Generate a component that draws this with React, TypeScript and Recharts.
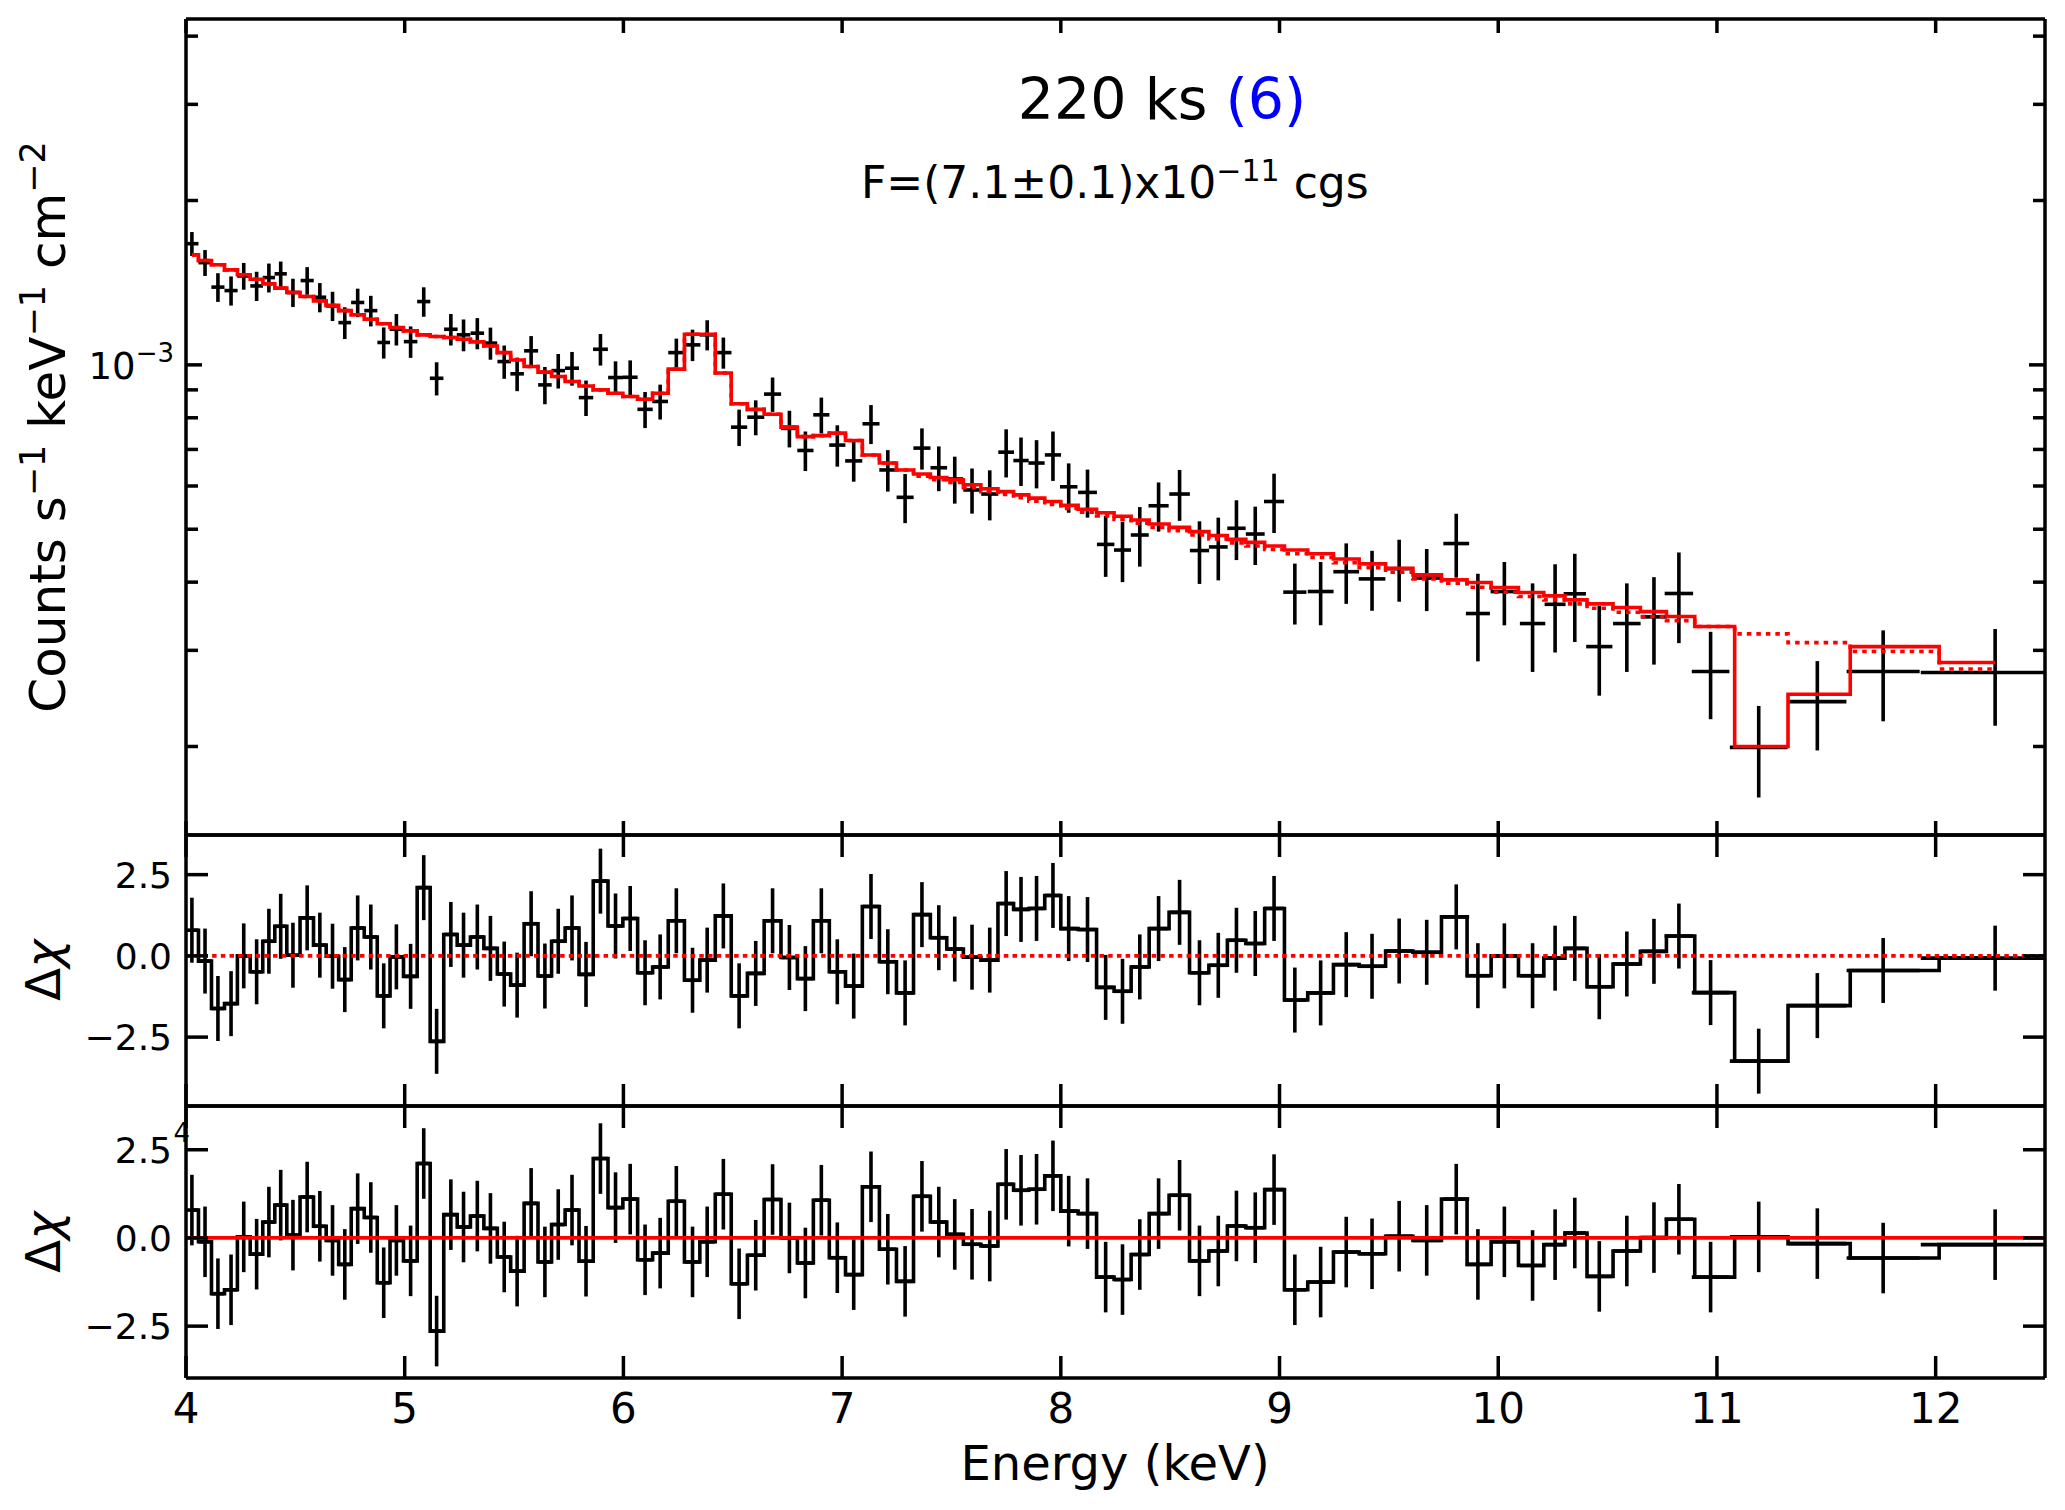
import React from "react";
import {
  ComposedChart,
  Line,
  Scatter,
  XAxis,
  YAxis,
  ErrorBar,
  ReferenceLine,
} from "recharts";

// bin centres (keV) and half widths
const energy = [
  4.027, 4.087, 4.146, 4.206, 4.264, 4.323, 4.379, 4.433, 4.489, 4.554,
  4.612, 4.670, 4.726, 4.785, 4.845, 4.904, 4.962, 5.027, 5.087, 5.146,
  5.211, 5.269, 5.332, 5.392, 5.455, 5.514, 5.578, 5.641, 5.702, 5.765,
  5.829, 5.895, 5.964, 6.031, 6.099, 6.168, 6.242, 6.316, 6.383, 6.457,
  6.529, 6.605, 6.682, 6.759, 6.832, 6.905, 6.978, 7.053, 7.132, 7.209,
  7.288, 7.365, 7.442, 7.515, 7.594, 7.675, 7.750, 7.818, 7.889, 7.964,
  8.036, 8.122, 8.205, 8.282, 8.361, 8.447, 8.543, 8.634, 8.720, 8.803,
  8.889, 8.975, 9.070, 9.188, 9.305, 9.423, 9.547, 9.673, 9.808, 9.907,
  10.028, 10.157, 10.260, 10.350, 10.462, 10.588, 10.712, 10.826, 10.971, 11.191,
  11.459, 11.760, 12.272,
];

const halfWidth = [
  0.030, 0.030, 0.030, 0.030, 0.030, 0.029, 0.028, 0.028, 0.030, 0.030,
  0.029, 0.029, 0.029, 0.030, 0.030, 0.029, 0.031, 0.031, 0.030, 0.031,
  0.031, 0.031, 0.031, 0.031, 0.031, 0.031, 0.032, 0.031, 0.031, 0.032,
  0.033, 0.034, 0.034, 0.034, 0.035, 0.036, 0.037, 0.036, 0.035, 0.037,
  0.037, 0.039, 0.039, 0.038, 0.037, 0.037, 0.037, 0.039, 0.039, 0.039,
  0.039, 0.039, 0.038, 0.038, 0.040, 0.039, 0.036, 0.035, 0.037, 0.037,
  0.040, 0.043, 0.040, 0.039, 0.041, 0.046, 0.047, 0.044, 0.043, 0.042,
  0.043, 0.046, 0.053, 0.059, 0.059, 0.061, 0.063, 0.066, 0.059, 0.055,
  0.063, 0.058, 0.048, 0.051, 0.060, 0.063, 0.060, 0.065, 0.086, 0.132,
  0.133, 0.167, 0.340,
];

// counts s^-1 keV^-1 cm^-2, in units of 1e-3
const rate = [
  1.667, 1.539, 1.388, 1.368, 1.455, 1.395, 1.445, 1.468, 1.357, 1.427,
  1.330, 1.282, 1.195, 1.301, 1.257, 1.099, 1.162, 1.103, 1.306, 0.945,
  1.162, 1.135, 1.143, 1.096, 1.014, 0.963, 1.061, 0.919, 0.976, 0.986,
  0.871, 1.068, 0.948, 0.949, 0.829, 0.857, 1.053, 1.088, 1.135, 1.053,
  0.769, 0.802, 0.884, 0.765, 0.697, 0.810, 0.713, 0.667, 0.780, 0.642,
  0.572, 0.704, 0.648, 0.618, 0.590, 0.580, 0.692, 0.668, 0.661, 0.684,
  0.598, 0.584, 0.469, 0.458, 0.488, 0.552, 0.580, 0.457, 0.464, 0.502,
  0.490, 0.562, 0.3835, 0.3845, 0.418, 0.4055, 0.4233, 0.407, 0.4707, 0.3504,
  0.3844, 0.3359, 0.3643, 0.3808, 0.3048, 0.3359, 0.3455, 0.3813, 0.2744, 0.1993,
  0.2417, 0.2744, 0.2733,
];

const rateErr = [
  0.084, 0.084, 0.084, 0.084, 0.082, 0.086, 0.088, 0.078, 0.081, 0.083,
  0.082, 0.079, 0.080, 0.078, 0.081, 0.072, 0.077, 0.073, 0.081, 0.066,
  0.077, 0.076, 0.075, 0.074, 0.071, 0.068, 0.068, 0.072, 0.071, 0.070,
  0.065, 0.071, 0.067, 0.070, 0.063, 0.063, 0.064, 0.072, 0.072, 0.069,
  0.059, 0.059, 0.064, 0.059, 0.058, 0.061, 0.062, 0.056, 0.064, 0.056,
  0.059, 0.061, 0.061, 0.061, 0.056, 0.061, 0.070, 0.068, 0.067, 0.071,
  0.062, 0.059, 0.060, 0.058, 0.061, 0.057, 0.062, 0.060, 0.061, 0.063,
  0.060, 0.070, 0.049, 0.051, 0.053, 0.051, 0.055, 0.053, 0.063, 0.064,
  0.051, 0.062, 0.067, 0.070, 0.057, 0.062, 0.063, 0.072, 0.050, 0.038,
  0.045, 0.052, 0.055,
];

// best fit with absorption line (solid red)
const model = [
  1.590, 1.553, 1.525, 1.493, 1.462, 1.435, 1.407, 1.382, 1.357, 1.334,
  1.310, 1.285, 1.257, 1.235, 1.212, 1.189, 1.171, 1.154, 1.135, 1.127,
  1.122, 1.114, 1.102, 1.083, 1.053, 1.021, 0.993, 0.970, 0.952, 0.932,
  0.915, 0.900, 0.887, 0.875, 0.865, 0.887, 0.982, 1.138, 1.138, 0.966,
  0.849, 0.829, 0.812, 0.769, 0.739, 0.742, 0.750, 0.727, 0.684, 0.661,
  0.642, 0.631, 0.622, 0.616, 0.603, 0.593, 0.586, 0.578, 0.570, 0.562,
  0.553, 0.544, 0.536, 0.528, 0.520, 0.511, 0.504, 0.495, 0.487, 0.479,
  0.473, 0.466, 0.458, 0.451, 0.441, 0.432, 0.424, 0.4124, 0.4038, 0.3993,
  0.3911, 0.3828, 0.3775, 0.3712, 0.3650, 0.3594, 0.3533, 0.3460, 0.3317, 0.2000,
  0.2493, 0.3048, 0.2850,
];

// continuum only (dotted red)
const contModel = [
  1.590, 1.553, 1.525, 1.493, 1.462, 1.435, 1.407, 1.382, 1.357, 1.334,
  1.310, 1.285, 1.257, 1.235, 1.212, 1.189, 1.171, 1.154, 1.135, 1.127,
  1.122, 1.114, 1.102, 1.083, 1.053, 1.021, 0.993, 0.970, 0.952, 0.932,
  0.915, 0.900, 0.887, 0.875, 0.865, 0.887, 0.982, 1.138, 1.138, 0.966,
  0.849, 0.829, 0.812, 0.769, 0.739, 0.742, 0.750, 0.727, 0.684, 0.661,
  0.642, 0.625, 0.616, 0.609, 0.596, 0.586, 0.579, 0.571, 0.563, 0.555,
  0.546, 0.537, 0.529, 0.521, 0.513, 0.504, 0.497, 0.488, 0.480, 0.472,
  0.466, 0.459, 0.451, 0.444, 0.434, 0.425, 0.417, 0.4055, 0.3982, 0.3915,
  0.3834, 0.3765, 0.3712, 0.3650, 0.3583, 0.3524, 0.3460, 0.3401, 0.3317, 0.3216,
  0.3100, 0.2985, 0.2774,
];

// residuals against the continuum (middle panel)
const resCont = [
  0.79, -0.16, -1.62, -1.47, 0.0, -0.49, 0.45, 0.91, 0.02, 1.17,
  0.33, -0.01, -0.73, 0.86, 0.58, -1.23, -0.03, -0.63, 2.1, -2.63,
  0.66, 0.33, 0.58, 0.23, -0.56, -0.9, 0.99, -0.62, 0.45, 0.86,
  -0.57, 2.3, 0.92, 1.15, -0.52, -0.34, 1.08, -0.75, -0.13, 1.23,
  -1.23, -0.54, 1.08, -0.05, -0.7, 1.08, -0.49, -0.93, 1.52, -0.18,
  -1.14, 1.27, 0.56, 0.21, -0.04, -0.13, 1.61, 1.43, 1.46, 1.86,
  0.84, 0.81, -0.97, -1.09, -0.34, 0.84, 1.34, -0.52, -0.29, 0.48,
  0.38, 1.46, -1.36, -1.14, -0.27, -0.32, 0.15, 0.11, 1.2, -0.61,
  0.0, -0.61, -0.07, 0.23, -0.95, -0.25, 0.14, 0.61, -1.13, -3.24,
  -1.53, -0.45, -0.07,
];

// residuals against the full model (bottom panel)
const resFull = [
  0.79, -0.11, -1.58, -1.47, 0.03, -0.46, 0.45, 0.93, 0.08, 1.16,
  0.33, -0.07, -0.75, 0.83, 0.58, -1.27, -0.07, -0.65, 2.11, -2.64,
  0.66, 0.31, 0.62, 0.27, -0.54, -0.94, 0.98, -0.68, 0.38, 0.79,
  -0.66, 2.25, 0.86, 1.1, -0.62, -0.43, 1.04, -0.68, -0.11, 1.24,
  -1.3, -0.49, 1.09, 0.0, -0.71, 1.07, -0.56, -1.04, 1.45, -0.32,
  -1.23, 1.18, 0.45, 0.1, -0.18, -0.23, 1.52, 1.35, 1.38, 1.76,
  0.76, 0.69, -1.11, -1.18, -0.47, 0.69, 1.21, -0.65, -0.37, 0.34,
  0.29, 1.37, -1.47, -1.25, -0.4, -0.45, 0.05, -0.07, 1.1, -0.75,
  -0.11, -0.78, -0.19, 0.14, -1.09, -0.37, 0.01, 0.53, -1.11, 0.03,
  -0.16, -0.57, -0.19,
];

const DCHI_ERR = 1; // residuals are in units of sigma

const xTicks = [4, 5, 6, 7, 8, 9, 10, 11, 12];
const rateTicks = [0.2, 0.3, 0.4, 0.5, 0.6, 0.7, 0.8, 0.9, 1, 2, 3, 4];
const resTicks = [-2.5, 0, 2.5];

const X_MIN = 4;
const X_MAX = 12.5;
const W = 2065;
const H = 1510;
const LEFT = 186;
const RIGHT = 2045;
const FONT = "'DejaVu Sans', sans-serif";
const AXIS_W = 3.5;
const TICK_W = 3.5;
const LINE_W = 3.6;

// x error bars are cut at the frame, like the clipped original
const rows = energy.map((e, i) => ({
  e,
  dx: [Math.min(halfWidth[i], e - X_MIN), Math.min(halfWidth[i], X_MAX - e)],
  rate: rate[i],
  rateErr: rateErr[i],
  model: model[i],
  cont: contModel[i],
  rc: resCont[i],
  rf: resFull[i],
  dchiErr: DCHI_ERR,
}));

const axisLine = { stroke: "#000", strokeWidth: AXIS_W };
const noShape = () => <g />;

function fmtRes(v: number) {
  if (v === 0) return "0.0";
  return v < 0 ? `\u2212${Math.abs(v).toFixed(1)}` : v.toFixed(1);
}

// tick renderers: ticks point inward
const bottomTick = (len: number, labels: boolean) => (p: any) => (
  <g>
    <line x1={p.x} y1={p.y} x2={p.x} y2={p.y - len} stroke="#000" strokeWidth={TICK_W} />
    {labels && (
      <text x={p.x} y={p.y + 45} textAnchor="middle" fontSize={42} fontFamily={FONT} fill="#000">
        {p.payload.value}
      </text>
    )}
  </g>
);

const topTick = (len: number) => (p: any) => (
  <line x1={p.x} y1={p.y} x2={p.x} y2={p.y + len} stroke="#000" strokeWidth={TICK_W} />
);

const logLeftTick = (p: any) => {
  const major = p.payload.value === 1;
  return (
    <g>
      <line x1={p.x} y1={p.y} x2={p.x + (major ? 16 : 12)} y2={p.y} stroke="#000" strokeWidth={TICK_W} />
      {major && (
        <text x={p.x - 12} y={p.y + 14} textAnchor="end" fontSize={37} fontFamily={FONT} fill="#000">
          10
          <tspan fontSize={26} dy={-17}>{"\u22123"}</tspan>
        </text>
      )}
    </g>
  );
};

const logRightTick = (p: any) => {
  const major = p.payload.value === 1;
  return (
    <line x1={p.x} y1={p.y} x2={p.x - (major ? 16 : 12)} y2={p.y} stroke="#000" strokeWidth={TICK_W} />
  );
};

const resLeftTick = (p: any) => (
  <g>
    <line x1={p.x} y1={p.y} x2={p.x + 22} y2={p.y} stroke="#000" strokeWidth={TICK_W} />
    <text x={p.x - 14} y={p.y + 13} textAnchor="end" fontSize={36} fontFamily={FONT} fill="#000">
      {fmtRes(p.payload.value)}
    </text>
  </g>
);

const resRightTick = (p: any) => (
  <line x1={p.x} y1={p.y} x2={p.x - 22} y2={p.y} stroke="#000" strokeWidth={TICK_W} />
);

// each panel is a full-page chart whose margins carve out its plot box;
// the 1px axis bands keep the axis lines exactly on the box edges
function frameMargin(top: number, bottom: number) {
  return { top: top - 1, right: W - RIGHT - 1, bottom: H - bottom - 1, left: LEFT - 1 };
}

function SpectrumPanel() {
  return (
    <ComposedChart width={W} height={H} data={rows} margin={frameMargin(19, 835)}>
      <XAxis
        dataKey="e"
        type="number"
        domain={[X_MIN, X_MAX]}
        allowDataOverflow
        ticks={xTicks}
        interval={0}
        height={1}
        tickSize={0}
        tickMargin={0}
        tickLine={false}
        axisLine={axisLine}
        tick={bottomTick(14, false)}
      />
      <XAxis
        xAxisId="top"
        orientation="top"
        dataKey="e"
        type="number"
        domain={[X_MIN, X_MAX]}
        allowDataOverflow
        ticks={xTicks}
        interval={0}
        height={1}
        tickSize={0}
        tickMargin={0}
        tickLine={false}
        axisLine={axisLine}
        tick={topTick(14)}
      />
      <YAxis
        type="number"
        scale="log"
        domain={[0.1377, 4.3]}
        allowDataOverflow
        ticks={rateTicks}
        interval={0}
        width={1}
        tickSize={0}
        tickMargin={0}
        tickLine={false}
        axisLine={axisLine}
        tick={logLeftTick}
      />
      <YAxis
        yAxisId="right"
        orientation="right"
        type="number"
        scale="log"
        domain={[0.1377, 4.3]}
        allowDataOverflow
        ticks={rateTicks}
        interval={0}
        width={1}
        tickSize={0}
        tickMargin={0}
        tickLine={false}
        axisLine={axisLine}
        tick={logRightTick}
      />
      <Scatter dataKey="rate" shape={noShape} isAnimationActive={false}>
        <ErrorBar dataKey="dx" direction="x" width={0} stroke="#000" strokeWidth={LINE_W} />
        <ErrorBar dataKey="rateErr" direction="y" width={0} stroke="#000" strokeWidth={LINE_W} />
      </Scatter>
      <Line
        dataKey="cont"
        type="step"
        stroke="#ff0000"
        strokeWidth={LINE_W}
        strokeDasharray="4.5 5"
        dot={false}
        isAnimationActive={false}
      />
      <Line
        dataKey="model"
        type="step"
        stroke="#ff0000"
        strokeWidth={LINE_W}
        dot={false}
        isAnimationActive={false}
      />
    </ComposedChart>
  );
}

function ResidualPanel({
  top,
  bottom,
  domain,
  dataKey,
  dotted,
  labels,
}: {
  top: number;
  bottom: number;
  domain: [number, number];
  dataKey: string;
  dotted: boolean;
  labels: boolean;
}) {
  return (
    <ComposedChart width={W} height={H} data={rows} margin={frameMargin(top, bottom)}>
      <XAxis
        dataKey="e"
        type="number"
        domain={[X_MIN, X_MAX]}
        allowDataOverflow
        ticks={xTicks}
        interval={0}
        height={1}
        tickSize={0}
        tickMargin={0}
        tickLine={false}
        axisLine={axisLine}
        tick={bottomTick(22, labels)}
      />
      <XAxis
        xAxisId="top"
        orientation="top"
        dataKey="e"
        type="number"
        domain={[X_MIN, X_MAX]}
        allowDataOverflow
        ticks={xTicks}
        interval={0}
        height={1}
        tickSize={0}
        tickMargin={0}
        tickLine={false}
        axisLine={axisLine}
        tick={topTick(22)}
      />
      <YAxis
        type="number"
        domain={domain}
        allowDataOverflow
        ticks={resTicks}
        interval={0}
        width={1}
        tickSize={0}
        tickMargin={0}
        tickLine={false}
        axisLine={axisLine}
        tick={resLeftTick}
      />
      <YAxis
        yAxisId="right"
        orientation="right"
        type="number"
        domain={domain}
        allowDataOverflow
        ticks={resTicks}
        interval={0}
        width={1}
        tickSize={0}
        tickMargin={0}
        tickLine={false}
        axisLine={axisLine}
        tick={resRightTick}
      />
      <Line
        dataKey={dataKey}
        type="step"
        stroke="#000"
        strokeWidth={LINE_W}
        dot={false}
        isAnimationActive={false}
      />
      <Scatter dataKey={dataKey} shape={noShape} isAnimationActive={false}>
        <ErrorBar dataKey="dx" direction="x" width={0} stroke="#000" strokeWidth={LINE_W} />
        <ErrorBar dataKey="dchiErr" direction="y" width={0} stroke="#000" strokeWidth={LINE_W} />
      </Scatter>
      <ReferenceLine
        y={0}
        stroke="#ff0000"
        strokeWidth={3.8}
        strokeDasharray={dotted ? "4.5 4.2" : undefined}
      />
    </ComposedChart>
  );
}

function Labels() {
  return (
    <svg width={W} height={H} style={{ position: "absolute", left: 0, top: 0 }}>
      <text x={1162} y={119} textAnchor="middle" fontSize={57} fontFamily={FONT} fill="#000">
        220 ks <tspan fill="#0000ff">(6)</tspan>
      </text>
      <text x={861} y={198} fontSize={44} fontFamily={FONT} fill="#000">
        F=(7.1±0.1)x10
        <tspan fontSize={30} dy={-17}>{"\u221211"}</tspan>
        <tspan dy={17}> cgs</tspan>
      </text>
      <text
        x={65}
        y={427}
        transform="rotate(-90 65 427)"
        textAnchor="middle"
        fontSize={50}
        fontFamily={FONT}
        fill="#000"
      >
        Counts s<tspan fontSize={35} dy={-20}>{"\u22121"}</tspan>
        <tspan dy={20}> keV</tspan>
        <tspan fontSize={35} dy={-20}>{"\u22121"}</tspan>
        <tspan dy={20}> cm</tspan>
        <tspan fontSize={35} dy={-20}>{"\u22122"}</tspan>
      </text>
      <text
        x={60}
        y={970}
        transform="rotate(-90 60 970)"
        textAnchor="middle"
        fontSize={48}
        fontFamily={FONT}
        fill="#000"
      >
        Δ<tspan fontStyle="italic">χ</tspan>
      </text>
      <text
        x={60}
        y={1242}
        transform="rotate(-90 60 1242)"
        textAnchor="middle"
        fontSize={48}
        fontFamily={FONT}
        fill="#000"
      >
        Δ<tspan fontStyle="italic">χ</tspan>
      </text>
      <text x={190} y={1142} textAnchor="end" fontSize={26} fontFamily={FONT} fill="#000">
        4
      </text>
      <text x={1115} y={1480} textAnchor="middle" fontSize={48} fontFamily={FONT} fill="#000">
        Energy (keV)
      </text>
    </svg>
  );
}

export default function App() {
  return (
    <div style={{ position: "absolute", left: 0, top: 0, width: W, height: H, background: "#fff" }}>
      <div style={{ position: "absolute", left: 0, top: 0 }}>
        <SpectrumPanel />
      </div>
      <div style={{ position: "absolute", left: 0, top: 0 }}>
        <ResidualPanel top={835} bottom={1106} domain={[-4.62, 3.72]} dataKey="rc" dotted labels={false} />
      </div>
      <div style={{ position: "absolute", left: 0, top: 0 }}>
        <ResidualPanel top={1106} bottom={1378} domain={[-3.97, 3.74]} dataKey="rf" dotted={false} labels />
      </div>
      <Labels />
    </div>
  );
}
